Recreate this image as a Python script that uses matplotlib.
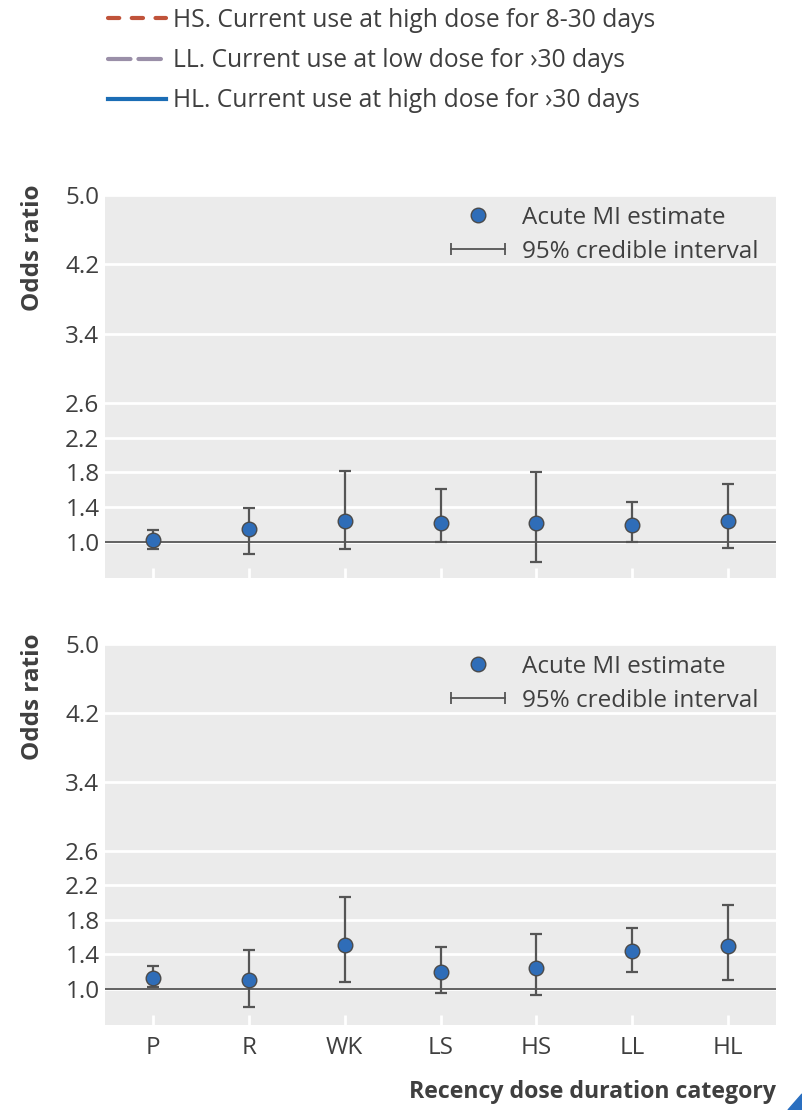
import matplotlib.pyplot as plt
from matplotlib.lines import Line2D
from matplotlib.legend_handler import HandlerLine2D
from matplotlib.patches import Polygon

plt.rcParams['font.family'] = ['Open Sans', 'DejaVu Sans']

# data
categories = ['P', 'R', 'WK', 'LS', 'HS', 'LL', 'HL']
top_est = [1.02, 1.15, 1.24, 1.22, 1.22, 1.19, 1.24]
top_low = [0.91, 0.86, 0.92, 0.99, 0.77, 0.99, 0.93]
top_high = [1.13, 1.39, 1.81, 1.61, 1.80, 1.46, 1.67]
bot_est = [1.12, 1.10, 1.51, 1.20, 1.24, 1.44, 1.50]
bot_low = [1.02, 0.79, 1.08, 0.95, 0.93, 1.19, 1.10]
bot_high = [1.27, 1.45, 2.06, 1.49, 1.64, 1.70, 1.97]
yticks = [1.0, 1.4, 1.8, 2.2, 2.6, 3.4, 4.2, 5.0]

legend_labels = ['HS. Current use at high dose for 8-30 days',
                 'LL. Current use at low dose for \u203a30 days',
                 'HL. Current use at high dose for \u203a30 days']

txt = '#3f3f3f'
bg = '#ebebeb'
bar_c = '#555555'
dot_c = '#2f6db8'
fs = 17.5

W, H = 802, 1110
fig = plt.figure(figsize=(W / 100, H / 100), dpi=100)


def px_axes(left, top, right, bottom):
    return fig.add_axes([left / W, 1 - bottom / H, (right - left) / W, (bottom - top) / H])


ax1 = px_axes(105, 195, 776, 578)
ax2 = px_axes(105, 644, 776, 1025)

x = list(range(len(categories)))
for ax, est, lo, hi in [(ax1, top_est, top_low, top_high), (ax2, bot_est, bot_low, bot_high)]:
    ax.set_facecolor(bg)
    for s in ax.spines.values():
        s.set_visible(False)
    ax.set_xlim(-0.5, len(categories) - 0.5)
    ax.set_ylim(0.58, 5.0)
    ax.set_yticks(yticks)
    ax.set_yticklabels([f'{v:.1f}' for v in yticks])
    ax.yaxis.grid(True, color='white', lw=2)
    ax.set_axisbelow(True)
    ax.axhline(1.0, color=bar_c, lw=1.3, zorder=1)
    ax.tick_params(axis='y', length=0, labelsize=fs, labelcolor=txt, pad=4)
    ax.tick_params(axis='x', direction='in', length=7, width=2, color='white',
                   labelsize=fs, labelcolor=txt, pad=8)
    ax.set_xticks(x)
    yerr = [[e - l for e, l in zip(est, lo)], [h - e for e, h in zip(est, hi)]]
    ax.errorbar(x, est, yerr=yerr, fmt='none', ecolor=bar_c, elinewidth=1.6,
                capsize=4.5, capthick=1.6, zorder=2)
    ax.plot(x, est, 'o', ms=10.5, mfc=dot_c, mec='#4a4a4a', mew=1.0, zorder=3)

    dot_h = Line2D([], [], ls='none', marker='o', ms=10.5, mfc=dot_c, mec='#4a4a4a', mew=1.0)
    ci_h = Line2D([0, 1], [0, 0], color=bar_c, lw=1.3, marker='|', ms=9, mew=1.3)
    ax.legend([dot_h, ci_h], ['Acute MI estimate', '95% credible interval'],
              handler_map={dot_h: HandlerLine2D(numpoints=1), ci_h: HandlerLine2D(numpoints=2)},
              loc='upper right', bbox_to_anchor=(1 - 18 / 671, 1 - 11 / 383), frameon=False,
              fontsize=fs, labelcolor=txt, handlelength=2.85, handletextpad=0.37,
              labelspacing=0.4, borderaxespad=0, borderpad=0)
    ax.text(-0.108, 1.027, 'Odds ratio', rotation=90, ha='center', va='top',
            transform=ax.transAxes, fontsize=fs, fontweight='bold', color=txt)

ax1.set_xticklabels([])
ax2.set_xticklabels(categories)
ax2.set_xlabel('Recency dose duration category', fontsize=16.7, fontweight='bold',
               color=txt, loc='right', labelpad=14)

# partial legend of the chart above
handles = [Line2D([], [], color='#c0533a', lw=3, ls=(0, (2.7, 3.0)), dash_capstyle='round'),
           Line2D([], [], color='#9a8fa8', lw=3, ls=(0, (5.4, 1.9)), dash_capstyle='round'),
           Line2D([], [], color='#1b6db5', lw=3)]
fig.legend(handles, legend_labels, loc='upper left', bbox_to_anchor=(108 / W, 1 - 8 / H),
           frameon=False, fontsize=17.7, labelcolor=txt, handlelength=2.35,
           handletextpad=0.29, labelspacing=0.62, borderaxespad=0, borderpad=0)

# blue corner mark
fig.add_artist(Polygon([[1.0, 0.0], [1.0, 16 / H], [1 - 14 / W, 0.0]], closed=True,
                       transform=fig.transFigure, color='#2a6fc0'))

fig.savefig('out.png', dpi=100)
